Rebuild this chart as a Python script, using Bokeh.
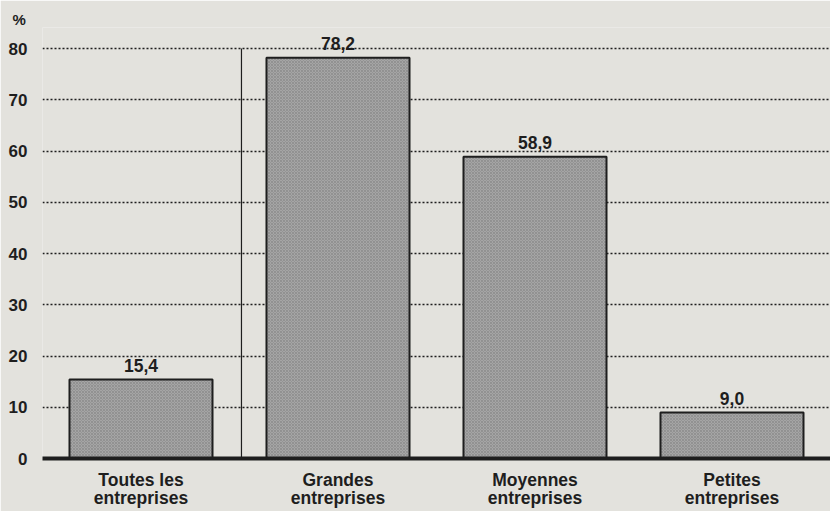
from bokeh.plotting import figure
from bokeh.models import Range1d, FixedTicker
from bokeh.embed import file_html
from bokeh.resources import INLINE

# Share of firms (%) by size class
categories = ["Toutes les\nentreprises", "Grandes\nentreprises",
              "Moyennes\nentreprises", "Petites\nentreprises"]
values = [15.4, 78.2, 58.9, 9.0]
y_ticks = [0, 10, 20, 30, 40, 50, 60, 70, 80]
unit = "%"

FONT = "Liberation Sans"
PAPER = "#e3e2dd"
INK = "#1e1e1e"

xs = list(range(len(categories)))

# the frame reaches a little above the top guide so value labels stay visible
p = figure(width=830, height=511, output_backend="svg", toolbar_location=None,
           x_range=Range1d(-0.5, len(categories) - 0.5), y_range=Range1d(0, 84.1),
           min_border_left=42, min_border_right=0, min_border_top=27,
           min_border_bottom=53, title=unit)
p.background_fill_color = PAPER
p.border_fill_color = PAPER
p.outline_line_color = None

# unit shown at the top-left corner
p.title.align = "left"
p.title.offset = -30
p.title.standoff = 0
p.title.text_font = FONT
p.title.text_font_size = "15px"
p.title.text_font_style = "bold"
p.title.text_color = INK

# dotted horizontal guides
p.xgrid.grid_line_color = None
p.ygrid.grid_line_color = INK
p.ygrid.grid_line_dash = "2 2"
p.ygrid.grid_line_width = 1.3
p.ygrid.ticker = FixedTicker(ticks=y_ticks[1:])

# y axis: labels only
p.yaxis.ticker = FixedTicker(ticks=y_ticks)
p.yaxis.axis_line_color = None
p.yaxis.major_tick_line_color = None
p.yaxis.minor_tick_line_color = None
p.yaxis.major_label_standoff = 9
p.yaxis.major_label_text_font = FONT
p.yaxis.major_label_text_font_size = "17px"
p.yaxis.major_label_text_font_style = "bold"
p.yaxis.major_label_text_color = INK

# x axis: heavy baseline with two-line category names
p.xaxis.ticker = FixedTicker(ticks=xs)
p.xaxis.major_label_overrides = {i: c for i, c in enumerate(categories)}
p.xaxis.axis_line_width = 4
p.xaxis.axis_line_color = INK
p.xaxis.major_tick_line_color = None
p.xaxis.minor_tick_line_color = None
p.xaxis.major_label_standoff = 5
p.xaxis.major_label_text_font = FONT
p.xaxis.major_label_text_font_size = "17.5px"
p.xaxis.major_label_text_font_style = "bold"
p.xaxis.major_label_text_line_height = 0.93
p.xaxis.major_label_text_color = INK

# separator between the total and the size classes
p.segment(x0=[0.51], y0=[0], x1=[0.51], y1=[y_ticks[-1]], line_color=INK, line_width=1.2)

p.vbar(x=xs, top=values, width=0.726, bottom=0,
       fill_color="#a5a5a5", line_color=INK, line_width=2,
       hatch_pattern="diagonal_cross", hatch_scale=3, hatch_weight=0.6,
       hatch_color="#858585")

labels = [f"{v:.1f}".replace(".", ",") for v in values]
p.text(x=xs, y=values, text=labels, text_align="center",
       text_baseline="alphabetic", y_offset=-14,
       text_font={"value": FONT}, text_font_size="17.5px",
       text_font_style="bold", text_color=INK)

open("out.html", "w").write(file_html(p, INLINE))
